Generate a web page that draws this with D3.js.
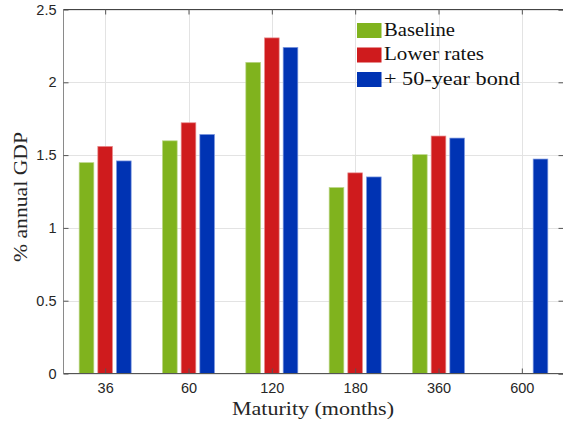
<!DOCTYPE html>
<html>
<head>
  <meta http-equiv="Content-Type" content="text/html; charset=UTF-8">
  <script src="https://d3js.org/d3.v7.min.js"></script>
  <style>
    body { margin:0; background:#fff; }
    svg { display:block; }
  </style>
</head>
<body>
  <svg width="563" height="425"></svg>
  <script>
    // maturities (months) and the three scenarios
    var categories = ["36", "60", "120", "180", "360", "600"];
    var seriesNames = ["Baseline", "Lower rates", "+ 50-year bond"];
    var baseline   = [1.448, 1.598, 2.137, 1.277, 1.503, null];
    var lowerRates = [1.560, 1.722, 2.305, 1.378, 1.631, null];
    var bond50     = [1.460, 1.642, 2.240, 1.350, 1.617, 1.473];
    var yTicks = [0, 0.5, 1, 1.5, 2, 2.5];
    var colors = ["#80b31e", "#cf1b1d", "#0033b3"];
    var edges  = ["#b9d585", "#e88c8d", "#7f9ae0"];

    var allSeries = [baseline, lowerRates, bond50];

    var pl = 63.5, pr = 563.5, pt = 9.5, pb = 373.5;

    var svg = d3.select("svg");

    var x = d3.scaleLinear().domain([0.5, 6.5]).range([pl, pr]);
    var y = d3.scaleLinear().domain([0, 2.5]).range([pb, pt]);

    var slot = x(2) - x(1);
    var barW = slot * 0.176;
    var offset = slot * 0.224;

    // grid
    svg.append("g").selectAll("line")
      .data(yTicks).enter().append("line")
      .attr("x1", pl).attr("x2", pr)
      .attr("y1", function(d) { return Math.round(y(d)) + 0.5; })
      .attr("y2", function(d) { return Math.round(y(d)) + 0.5; })
      .attr("stroke", "#e3e3e3");
    svg.append("g").selectAll("line")
      .data(categories).enter().append("line")
      .attr("x1", function(d, i) { return Math.round(x(i + 1)) + 0.5; })
      .attr("x2", function(d, i) { return Math.round(x(i + 1)) + 0.5; })
      .attr("y1", pt).attr("y2", pb)
      .attr("stroke", "#e3e3e3");

    // bars
    allSeries.forEach(function(vals, s) {
      svg.append("g").selectAll("rect")
        .data(vals.map(function(v, i) { return {v: v, i: i}; }).filter(function(d) { return d.v != null; }))
        .enter().append("rect")
        .attr("x", function(d) { return x(d.i + 1) + (s - 1) * offset - barW / 2; })
        .attr("width", barW)
        .attr("y", function(d) { return y(d.v); })
        .attr("height", function(d) { return y(0) - y(d.v); })
        .attr("fill", colors[s])
        .attr("stroke", edges[s])
        .attr("stroke-width", 0.7);
    });

    // axes
    var yAxis = d3.axisLeft(y).tickValues(yTicks).tickSize(-5).tickPadding(7)
      .tickFormat(function(d) { return d3.format("")(d); });
    var gy = svg.append("g").attr("transform", "translate(" + pl + ",0)").call(yAxis);
    gy.select(".domain").attr("stroke", "#8a8a8a").attr("d", "M0," + pt + "V" + pb);
    gy.selectAll(".tick line").attr("stroke", "#555");

    var gyr = svg.append("g").attr("transform", "translate(" + pr + ",0)")
      .call(d3.axisRight(y).tickValues(yTicks).tickSize(-5).tickFormat(""));
    gyr.select(".domain").attr("stroke", "#555");
    gyr.selectAll(".tick line").attr("stroke", "#555");

    var xAxis = d3.axisBottom(x).tickValues([1, 2, 3, 4, 5, 6]).tickSize(-5).tickPadding(9)
      .tickFormat(function(d) { return categories[d - 1]; });
    var gx = svg.append("g").attr("transform", "translate(0," + pb + ")").call(xAxis);
    gx.select(".domain").attr("stroke", "#555").attr("d", "M" + pl + ",0H" + pr);
    gx.selectAll(".tick line").attr("stroke", "#555");

    var gxt = svg.append("g").attr("transform", "translate(0," + pt + ")")
      .call(d3.axisTop(x).tickValues([1, 2, 3, 4, 5, 6]).tickSize(-5).tickFormat(""));
    gxt.select(".domain").attr("stroke", "#444").attr("d", "M" + pl + ",0H" + pr);
    gxt.selectAll(".tick line").attr("stroke", "#555");

    svg.selectAll(".tick text")
      .attr("font-family", "'Liberation Sans', Arial, sans-serif")
      .attr("font-size", 14.5)
      .attr("fill", "#262626");

    // axis titles
    svg.append("text")
      .attr("x", 313).attr("y", 415)
      .attr("text-anchor", "middle")
      .attr("font-family", "'Liberation Serif', serif")
      .attr("font-size", 18)
      .attr("textLength", 162).attr("lengthAdjust", "spacingAndGlyphs")
      .attr("fill", "#262626")
      .text("Maturity (months)");

    svg.append("text")
      .attr("transform", "translate(27,197) rotate(-90)")
      .attr("text-anchor", "middle")
      .attr("font-family", "'Liberation Serif', serif")
      .attr("font-size", 18)
      .attr("textLength", 130).attr("lengthAdjust", "spacingAndGlyphs")
      .attr("fill", "#262626")
      .text("% annual GDP");

    // legend
    var legendW = [71, 100, 136];
    var lg = svg.append("g").attr("transform", "translate(357,23)");
    seriesNames.forEach(function(name, i) {
      lg.append("rect")
        .attr("x", 0).attr("y", i * 24.5)
        .attr("width", 24.5).attr("height", 15)
        .attr("fill", colors[i]);
      lg.append("text")
        .attr("x", 27).attr("y", i * 24.5 + 12.5)
        .attr("font-family", "'Liberation Serif', serif")
        .attr("font-size", 18)
        .attr("textLength", legendW[i]).attr("lengthAdjust", "spacingAndGlyphs")
        .attr("fill", "#111")
        .text(name);
    });
  </script>
</body>
</html>
